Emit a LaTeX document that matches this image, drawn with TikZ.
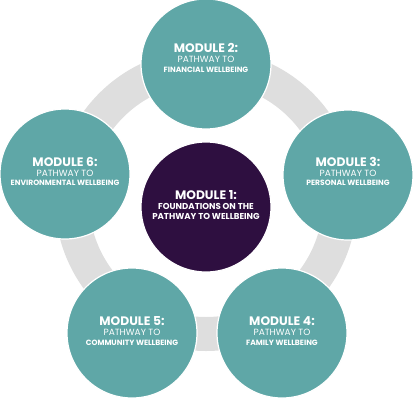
\documentclass[tikz,border=0pt]{standalone}
\usepackage{fontspec}
\setmainfont{Poppins}
\definecolor{tealmod}{HTML}{5FA7A7}
\definecolor{plum}{HTML}{2E0F40}
\definecolor{ringgray}{HTML}{DEDEDE}
\newcommand{\modhead}[1]{{\fontsize{12.3}{12}\selectfont\bfseries #1}}
\newcommand{\modmid}[1]{{\fontsize{9}{10}\selectfont #1}}
\newcommand{\modlast}[1]{{\fontsize{7.6}{10}\selectfont\bfseries #1}}
\newcommand{\centlast}[1]{{\fontsize{8.6}{10}\selectfont\bfseries #1}}
\tikzset{
  ringshape/.style={circle, draw=ringgray, line width=34pt, minimum size=268pt, inner sep=0pt},
  modcircle/.style={circle, fill=tealmod, draw=white, line width=1.2pt, minimum size=130pt, inner sep=0pt},
  centrecircle/.style={modcircle, fill=plum},
  modtext/.style={text=white, align=center, inner sep=0pt}
}
\begin{document}
\begin{tikzpicture}[x=1pt,y=-1pt]
\useasboundingbox (0,0) rectangle (413,400);
\node[ringshape] (ring) at (206,200) {};
\node[modcircle] (m2) at (206,64) {};
\node[modcircle] (m3) at (348,175) {};
\node[modcircle] (m4) at (282,333) {};
\node[modcircle] (m5) at (132,333) {};
\node[modcircle] (m6) at (65,174) {};
\node[centrecircle] (m1) at (206,207) {};
\node[modtext] (t1) at (206,205) {\modhead{MODULE 1:}\\[-1.5pt]\centlast{FOUNDATIONS ON THE}\\[-2pt]\centlast{PATHWAY TO WELLBEING}};
\node[modtext] (t2) at (206,58) {\modhead{MODULE 2:}\\[-2pt]\modmid{PATHWAY TO}\\[-2.5pt]\modlast{FINANCIAL WELLBEING}};
\node[modtext] (t3) at (348,171.5) {\modhead{MODULE 3:}\\[-2pt]\modmid{PATHWAY TO}\\[-2.5pt]\modlast{PERSONAL WELLBEING}};
\node[modtext] (t4) at (282,331) {\modhead{MODULE 4:}\\[-2pt]\modmid{PATHWAY TO}\\[-2.5pt]\modlast{FAMILY WELLBEING}};
\node[modtext] (t5) at (132,331) {\modhead{MODULE 5:}\\[-2pt]\modmid{PATHWAY TO}\\[-2.5pt]\modlast{COMMUNITY WELLBEING}};
\node[modtext] (t6) at (65,171.5) {\modhead{MODULE 6:}\\[-2pt]\modmid{PATHWAY TO}\\[-2.5pt]\modlast{ENVIRONMENTAL WELLBEING}};
\end{tikzpicture}
\end{document}
